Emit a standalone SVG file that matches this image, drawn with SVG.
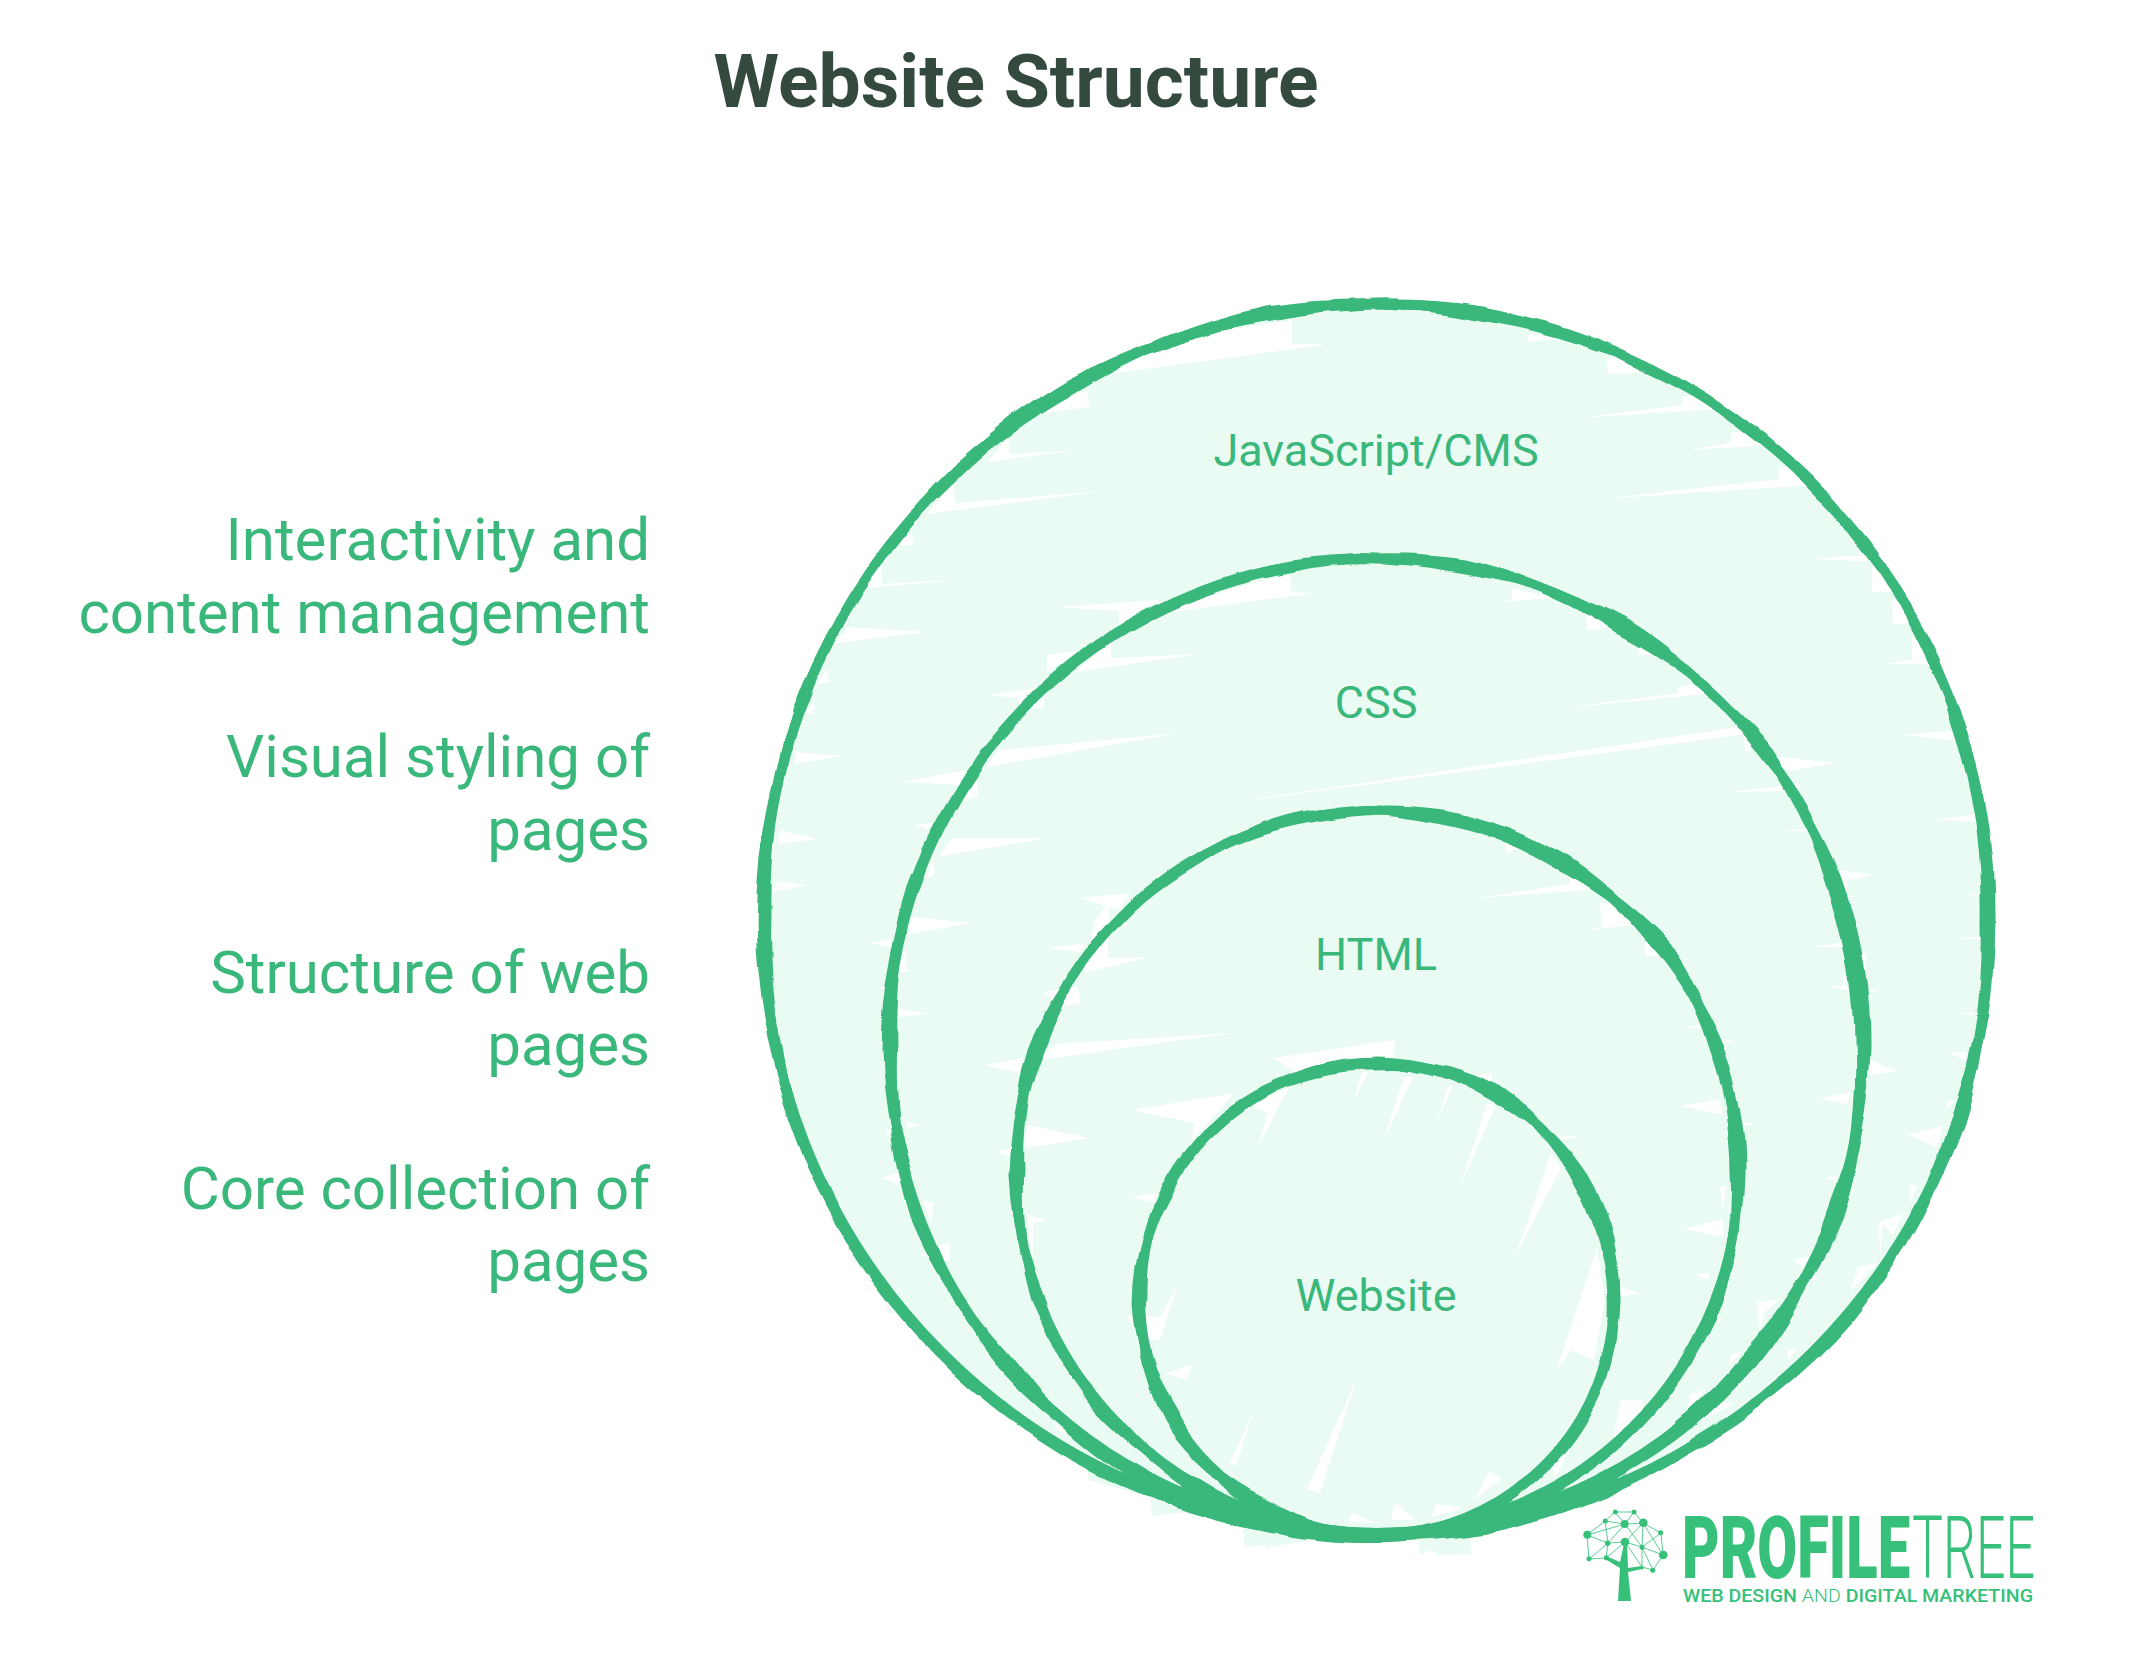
<svg xmlns="http://www.w3.org/2000/svg" width="2132" height="1656" viewBox="0 0 2132 1656">
<defs>
<filter id="wa" filterUnits="userSpaceOnUse" x="0" y="0" width="2132" height="1656" color-interpolation-filters="sRGB"><feTurbulence type="fractalNoise" baseFrequency="0.016" numOctaves="2" seed="3"/><feDisplacementMap in="SourceGraphic" scale="11" xChannelSelector="R" yChannelSelector="G"/></filter>
<filter id="wb" filterUnits="userSpaceOnUse" x="0" y="0" width="2132" height="1656" color-interpolation-filters="sRGB"><feTurbulence type="fractalNoise" baseFrequency="0.016" numOctaves="2" seed="11"/><feDisplacementMap in="SourceGraphic" scale="11" xChannelSelector="R" yChannelSelector="G"/></filter>
</defs>
<style>
text{font-family:Roboto,"Liberation Sans",sans-serif}
.t{font-size:60px;fill:#3ab87b;text-anchor:end}
.c{font-size:45px;fill:#3ab87b;text-anchor:middle}
.r{fill:none;stroke:#3ab87b;stroke-width:9;stroke-linejoin:round}
.m{fill:none;stroke:#3ab87b;stroke-width:8}
.a{filter:url(#wa)}
.b{filter:url(#wb)}
.f{fill:#e9fbf3}
.w{fill:#fff}
.e{stroke:#36c07a;stroke-width:1;opacity:.8;fill:none}
.n{fill:#36c07a}
</style>
<rect width="2132" height="1656" fill="#fff"/>
<text x="1016" y="107" font-size="75" font-weight="700" fill="#344a3f" text-anchor="middle">Website Structure</text>
<g id="labels">
<text class="t" x="650" y="560">Interactivity and</text>
<text class="t" x="650" y="633">content management</text>
<text class="t" x="650" y="777">Visual styling of</text>
<text class="t" x="650" y="850">pages</text>
<text class="t" x="650" y="993">Structure of web</text>
<text class="t" x="650" y="1065">pages</text>
<text class="t" x="650" y="1209">Core collection of</text>
<text class="t" x="650" y="1281">pages</text>
</g>
<g id="fill">
<circle class="f" cx="1378" cy="920" r="612"/>
<path class="f" d="M1088 1470L1088 1480 1150 1497 1152 1516 1188 1512 1240 1500 1243 1527 1245 1547 1266 1545 1266 1548 1315 1539 1312 1520ZM1415 1525L1420 1554 1433 1550 1437 1555 1472 1554 1468 1525ZM1598 1480L1598 1493 1614 1497 1615 1487 1640 1470ZM1004 1413L1033 1432 1054 1415 1040 1400ZM887 1293L887 1312 903 1315 910 1300ZM953 1367L952 1378 973 1383 980 1370ZM860 1257L859 1268 870 1272 875 1260ZM833 1217L833 1224 842 1225 842 1215ZM1732 1381L1732 1400 1750 1400 1760 1380ZM1687 1428L1685 1440 1702 1428 1702 1410Z"/>
<path class="w" d="M1292 320L1292 343 1325 345 1115 373 1160 340ZM1088 390L1089 407 1044 413 1070 397ZM1008 437L1010 454 1077 450 988 462ZM953 483L956 503 1104 491 927 514ZM912 533L913 545 892 545ZM881 560L882 584 968 579 867 588ZM847 627L927 632 836 643ZM827 668L828 680 836 680 816 685ZM814 703L814 713 805 713ZM796 752L843 756 794 764ZM780 830L818 839 778 844ZM778 881L807 885 772 892Z"/>
<path class="w" d="M1290 573L1291 592 1316 593 1164 613 1204 597ZM1057 607L1119 611 1119 627 1160 600ZM1111 640L1111 658 1200 654 1075 672ZM1047 655L1047 673 1079 650ZM986 695L1019 698 1019 710 1044 687ZM1044 697L1044 708 1032 708ZM999 750L1180 733 986 767ZM902 782L965 770 960 785ZM977 782L978 797 963 800 965 775ZM915 824L933 823 927 830ZM952 838L1047 838 938 857ZM933 858L934 875 927 878ZM913 917L973 923 908 934ZM870 943L893 939 890 947ZM905 950L907 970 912 971 897 973ZM876 987L887 986 885 988ZM898 1009L927 1013 897 1018ZM907 1122L922 1125 907 1128ZM887 1127L887 1135 892 1135ZM881 1178L898 1173 905 1187ZM923 1200L933 1203 932 1227ZM920 1255L950 1242 950 1260 935 1260Z"/>
<path class="w" d="M1080 898L1130 893 1120 910ZM1109 902L1108 958 1150 957 1083 973 1095 920ZM1048 948L1087 943 1080 952ZM1045 992L1078 987 1081 1004 1058 1007ZM1055 1044L1234 1033 1038 1060ZM983 1065L1023 1058 1020 1073ZM1027 1125L1090 1138 1025 1148ZM997 1152L1012 1148 1010 1157ZM1027 1215L1048 1220 1033 1223 1033 1260Z"/>
<path class="w" d="M1528 334L1528 342 1566 338ZM1607 358L1608 374 1594 375 1650 372 1640 358ZM1681 396L1683 405 1578 418 1720 409 1700 396ZM1731 432L1732 442 1690 450 1770 445 1760 432ZM1779 467L1779 479 1600 499 1815 485 1800 467ZM1811 559L1850 556 1880 556 1880 562 1857 561ZM1872 566L1872 592 1895 592 1885 566ZM1892 601L1893 624 1925 624 1910 601ZM1912 637L1912 659 1886 664 1945 664 1930 637ZM1902 735L1970 729 1970 742ZM1935 820L1985 813 1985 822ZM1963 895L1995 894 1995 897ZM1957 938L1995 935 1995 941ZM1960 1013L1973 1012 1973 1015ZM1948 1053L1967 1052 1965 1060ZM1947 1101L1955 1101 1947 1110ZM1908 1135L1943 1126 1937 1147ZM1910 1185L1918 1185 1910 1203ZM1879 1222L1903 1214 1893 1235 1883 1224 1880 1260ZM1855 1268L1877 1263 1850 1292 1857 1271ZM1788 1350L1798 1349 1788 1360ZM1713 1403L1737 1403 1700 1420Z"/>
<path class="w" d="M1512 588L1512 599 1499 602 1554 598ZM1586 615L1587 630 1609 628 1625 628 1615 615ZM1637 642L1639 655 1665 655 1655 642ZM1677 688L1678 693 1554 709 1715 693 1705 680ZM1725 729L1214 805 1755 733 1745 725ZM1744 735L1745 751 1770 749 1760 735ZM1762 755L1837 763 1789 771ZM1728 792L1800 784 1800 791ZM1779 831L1820 828 1820 831ZM1835 869L1874 875 1847 880 1847 898ZM1811 947L1853 941 1854 947ZM1855 954L1866 954 1866 980ZM1827 987L1843 985 1843 972 1848 990ZM1865 989L1878 990 1865 994ZM1870 1060L1898 1071 1868 1075ZM1819 1099L1850 1092 1848 1104ZM1825 1178L1837 1176 1835 1181ZM1845 1189L1857 1190 1843 1196ZM1793 1260L1820 1255 1808 1281 1818 1279ZM1757 1302L1780 1299 1765 1312 1760 1331ZM1730 1355L1743 1351 1730 1365ZM1690 1394L1705 1390 1687 1410Z"/>
<path class="w" d="M1505 834L1506 853 1523 847ZM1570 878L1570 884 1475 898 1605 889 1595 878ZM1600 903L1602 927 1582 930 1640 925 1625 903ZM1644 941L1645 956 1672 956 1660 941ZM1680 1028L1700 1026 1703 1028ZM1718 1039L1735 1041 1720 1044ZM1680 1106L1720 1099 1723 1115ZM1738 1122L1755 1124 1740 1126ZM1720 1187L1727 1185 1723 1210ZM1683 1229L1723 1219 1723 1237ZM1693 1274L1710 1274 1708 1280ZM1707 1324L1723 1320 1713 1314Z"/>
<path class="w" d="M1273 1058L1395 1040 1393 1060 1300 1075ZM1132 1110L1194 1123 1192 1140 1235 1093ZM1251 1105L1268 1113 1258 1147 1289 1087ZM1368 1072L1353 1103 1362 1072ZM1404 1077L1413 1077 1382 1145ZM1453 1085L1436 1125 1448 1087ZM1487 1103L1496 1105 1460 1187ZM1479 1075L1492 1073 1492 1085ZM1565 1136L1580 1137 1558 1140ZM1551 1153L1515 1257 1561 1168ZM1130 1197L1158 1193 1154 1202ZM1127 1315L1160 1317 1177 1287 1160 1340 1140 1340ZM1617 1285L1641 1294 1617 1297ZM1597 1247L1556 1372 1571 1350 1594 1360 1605 1300Z"/>
<path class="w" d="M1357 1378L1307 1489 1320 1493ZM1254 1410L1230 1463 1236 1466ZM1192 1365L1165 1373 1187 1380 1179 1403ZM1620 1400L1612 1447 1643 1417 1643 1400ZM1489 1471L1475 1500 1502 1478ZM1571 1447L1553 1467 1554 1480ZM1353 1513L1348 1522 1375 1523ZM1395 1502L1391 1520 1415 1520ZM1437 1504L1431 1517 1464 1508ZM1053 1422L1057 1430 1082 1442Z"/>
</g>
<g id="ring-javascript-cms">
<g transform="translate(-3 0)">
<circle class="m" cx="1380" cy="918" r="614"/>
<path class="r a" d="M1994 920A615 615 0 0 1 1956 1128A615 615 0 0 1 1853 1317A615 615 0 0 1 1686 1451A615 615 0 0 1 1489 1528A615 615 0 0 1 1270 1524A615 615 0 0 1 1074 1455A615 615 0 0 1 907 1313A615 615 0 0 1 804 1132A615 615 0 0 1 763 922A615 615 0 0 1 804 708A615 615 0 0 1 907 527A615 615 0 0 1 1070 385A615 615 0 0 1 1275 316A615 615 0 0 1 1485 312A615 615 0 0 1 1690 389A615 615 0 0 1 1849 523A615 615 0 0 1 1960 712A615 615 0 0 1 1994 920Z"/>
<path class="r b" d="M1990 925A615 615 0 0 1 1961 1126A615 615 0 0 1 1847 1319A615 615 0 0 1 1691 1448A615 615 0 0 1 1483 1530A615 615 0 0 1 1276 1528A615 615 0 0 1 1069 1450A615 615 0 0 1 912 1318A615 615 0 0 1 799 1127A615 615 0 0 1 769 916A615 615 0 0 1 799 713A615 615 0 0 1 912 521A615 615 0 0 1 1075 390A615 615 0 0 1 1270 311A615 615 0 0 1 1490 317A615 615 0 0 1 1685 384A615 615 0 0 1 1855 528A615 615 0 0 1 1955 707A615 615 0 0 1 1990 925Z"/>
</g>
<text class="c" x="1376" y="466">JavaScript/CMS</text>
</g>
<g id="ring-css">
<g transform="translate(-4 0)">
<circle class="m" cx="1380" cy="1045" r="487"/>
<path class="r a" d="M1870 1049A488 488 0 0 1 1837 1212A488 488 0 0 1 1756 1363A488 488 0 0 1 1622 1472A488 488 0 0 1 1467 1527A488 488 0 0 1 1293 1530A488 488 0 0 1 1138 1468A488 488 0 0 1 1004 1363A488 488 0 0 1 923 1212A488 488 0 0 1 890 1049A488 488 0 0 1 923 878A488 488 0 0 1 1004 735A488 488 0 0 1 1138 622A488 488 0 0 1 1297 564A488 488 0 0 1 1463 568A488 488 0 0 1 1626 622A488 488 0 0 1 1752 735A488 488 0 0 1 1841 878A488 488 0 0 1 1870 1049Z"/>
<path class="r b" d="M1864 1044A488 488 0 0 1 1842 1217A488 488 0 0 1 1751 1358A488 488 0 0 1 1627 1467A488 488 0 0 1 1462 1531A488 488 0 0 1 1298 1526A488 488 0 0 1 1133 1473A488 488 0 0 1 1009 1358A488 488 0 0 1 918 1217A488 488 0 0 1 896 1044A488 488 0 0 1 918 883A488 488 0 0 1 1009 730A488 488 0 0 1 1133 627A488 488 0 0 1 1292 569A488 488 0 0 1 1468 563A488 488 0 0 1 1621 628A488 488 0 0 1 1757 730A488 488 0 0 1 1836 883A488 488 0 0 1 1864 1044Z"/>
</g>
<text class="c" x="1376" y="718">CSS</text>
</g>
<g id="ring-html">
<g transform="translate(-6 0)">
<circle class="m" cx="1383" cy="1171" r="361"/>
<path class="r a" d="M1747 1175A362 362 0 0 1 1721 1299A362 362 0 0 1 1662 1404A362 362 0 0 1 1562 1488A362 362 0 0 1 1448 1529A362 362 0 0 1 1318 1532A362 362 0 0 1 1204 1484A362 362 0 0 1 1104 1408A362 362 0 0 1 1045 1295A362 362 0 0 1 1019 1175A362 362 0 0 1 1045 1047A362 362 0 0 1 1104 942A362 362 0 0 1 1204 858A362 362 0 0 1 1318 818A362 362 0 0 1 1448 814A362 362 0 0 1 1566 858A362 362 0 0 1 1658 942A362 362 0 0 1 1725 1047A362 362 0 0 1 1747 1175Z"/>
<path class="r b" d="M1741 1171A362 362 0 0 1 1726 1295A362 362 0 0 1 1657 1409A362 362 0 0 1 1567 1483A362 362 0 0 1 1443 1533A362 362 0 0 1 1323 1528A362 362 0 0 1 1199 1489A362 362 0 0 1 1109 1403A362 362 0 0 1 1040 1300A362 362 0 0 1 1025 1171A362 362 0 0 1 1040 1052A362 362 0 0 1 1109 937A362 362 0 0 1 1199 863A362 362 0 0 1 1323 813A362 362 0 0 1 1443 819A362 362 0 0 1 1561 863A362 362 0 0 1 1663 937A362 362 0 0 1 1720 1052A362 362 0 0 1 1741 1171Z"/>
</g>
<text class="c" x="1376" y="970">HTML</text>
</g>
<g id="ring-website">
<g transform="translate(-4 0)">
<circle class="m" cx="1381" cy="1298" r="236"/>
<path class="r a" d="M1620 1302A237 237 0 0 1 1584 1420A237 237 0 0 1 1501 1503A237 237 0 0 1 1383 1536A237 237 0 0 1 1261 1507A237 237 0 0 1 1178 1416A237 237 0 0 1 1142 1302A237 237 0 0 1 1178 1180A237 237 0 0 1 1261 1097A237 237 0 0 1 1383 1062A237 237 0 0 1 1497 1097A237 237 0 0 1 1588 1180A237 237 0 0 1 1620 1302Z"/>
<path class="r b" d="M1615 1297A237 237 0 0 1 1589 1416A237 237 0 0 1 1496 1508A237 237 0 0 1 1378 1539A237 237 0 0 1 1266 1502A237 237 0 0 1 1173 1421A237 237 0 0 1 1147 1297A237 237 0 0 1 1173 1185A237 237 0 0 1 1266 1092A237 237 0 0 1 1378 1066A237 237 0 0 1 1502 1092A237 237 0 0 1 1583 1185A237 237 0 0 1 1615 1297Z"/>
</g>
<text class="c" x="1376" y="1311">Website</text>
</g>
<g id="logo">
<path class="e" d="M1587 1535L1605 1521 1615 1512H1634L1625 1524 1605 1521M1615 1512L1625 1524 1643 1523 1634 1512M1587 1535L1625 1524 1608 1543 1587 1535 1589 1559 1608 1543 1606 1558 1589 1559M1605 1521L1608 1543M1625 1524L1642 1547 1643 1523 1661 1533 1642 1547 1663 1555 1661 1533M1643 1523L1663 1555M1625 1542L1606 1558M1625 1542L1642 1567 1642 1547 1653 1570 1663 1555M1642 1567L1653 1570M1608 1543L1625 1542 1642 1547M1625 1542L1643 1523"/>
<g class="n">
<circle cx="1587.3" cy="1534.7" r="4"/><circle cx="1605.3" cy="1521" r="2.5"/><circle cx="1615.3" cy="1512" r="2.5"/><circle cx="1634" cy="1512" r="2.5"/><circle cx="1624.7" cy="1524" r="4"/><circle cx="1643.3" cy="1522.7" r="4.3"/><circle cx="1660.7" cy="1532.7" r="2.5"/><circle cx="1607.7" cy="1543.3" r="2.7"/><circle cx="1625" cy="1542" r="4.3"/><circle cx="1642" cy="1547.3" r="2.5"/><circle cx="1663.3" cy="1555" r="4.3"/><circle cx="1589" cy="1558.7" r="2.5"/><circle cx="1606.3" cy="1557.7" r="2.5"/><circle cx="1642" cy="1567.7" r="1.7"/><circle cx="1652.7" cy="1570.3" r="2.5"/>
<path d="M1606 1556L1620 1562 1624 1544 1627 1544 1628 1568 1642 1566 1642 1569 1628 1572 1631 1601 1618 1601 1620 1568 1605 1559Z"/>
</g>
<text x="1682" y="1578" font-size="88" font-weight="900" fill="#36c07a" textLength="228" lengthAdjust="spacingAndGlyphs">PROFILE</text>
<text x="1912" y="1578" font-size="88" font-weight="300" fill="#36c07a" textLength="123" lengthAdjust="spacingAndGlyphs">TREE</text>
<text x="1683" y="1602" font-size="19" font-weight="500" fill="#36c07a" textLength="350" lengthAdjust="spacingAndGlyphs">WEB DESIGN <tspan font-weight="300">AND</tspan> DIGITAL MARKETING</text>
</g>
</svg>
